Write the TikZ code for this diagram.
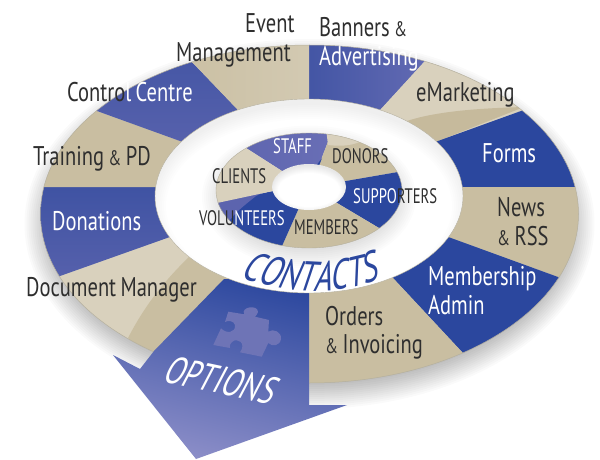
\documentclass[tikz,border=0pt]{standalone}
\usepackage{fontspec}
\setmainfont{PT Sans}[FakeStretch=0.76,WordSpace=0.8]
\newfontfamily\capsfont{PT Sans}[FakeStretch=0.7,WordSpace=0.8]
\newfontfamily\slantfont{PT Sans}[FakeStretch=0.72,FakeSlant=0.28]
\usetikzlibrary{calc,decorations.text}
\definecolor{tan1}{HTML}{C9BEA1}
\definecolor{tan2}{HTML}{D9D1BD}
\definecolor{tan3}{HTML}{C6BA9C}
\definecolor{blue1}{HTML}{2B479E}
\definecolor{blue2}{HTML}{3F53A3}
\definecolor{blue3}{HTML}{5C64AE}
\definecolor{blue4}{HTML}{6A6FB6}
\definecolor{ink}{HTML}{2E2E2E}
\definecolor{arrowlight}{HTML}{8C8EC8}
\definecolor{edge}{HTML}{B5B09E}
\definecolor{puzzle}{HTML}{6E74B6}
\tikzset{
  bigtext/.style={anchor=base west,inner sep=0pt,font=\fontsize{27}{27}\selectfont,text=ink},
  smalltext/.style={anchor=base west,inner sep=0pt,font=\capsfont\fontsize{21}{21}\selectfont,text=ink},
  onblue/.style={text=white},
  tansolid/.style={fill=tan1},
  bluesolid/.style={fill=blue1},
}
\newcommand{\ringseg}[5]{\fill[#5] ($#1!-0.2!#2$) -- ($#1!1.7!#2$) -- ($#4!1.7!#3$) -- ($#4!-0.2!#3$) -- cycle;}
\newcommand{\shadeseg}[5]{\shade[#5] ($#1!-0.2!#2$) -- ($#1!1.7!#2$) -- ($#4!1.7!#3$) -- ($#4!-0.2!#3$) -- cycle;}
\newcommand{\amp}{{\fontsize{21}{21}\selectfont\&}}
\begin{document}
\begin{tikzpicture}[x=1pt,y=-1pt]
\useasboundingbox (0,0) rectangle (600,460);
\fill[white] (0,0) rectangle (600,460);
% outer drop shadow
\foreach \i in {0,2,...,24}{
  \fill[black,opacity=.018] (309.5,224) ellipse [x radius={269pt+\i*1pt-8pt},y radius={169pt+\i*1pt-8pt}];
}
% big ring segments
\begin{scope}
\clip (309.5,214) ellipse [x radius=269pt,y radius=169pt];
\shadeseg{(309,99)}{(309,45)}{(425,61)}{(381,109)}{left color=blue2!85!blue3,right color=blue4}
\ringseg{(381,109)}{(425,61)}{(521,111)}{(438,141)}{fill=tan2}
\fill[tan3] (407,121) .. controls (440,110) and (490,108) .. (524,107) -- (438,141) -- (400,135) -- cycle;
\ringseg{(438,141)}{(521,111)}{(574,187)}{(463,187)}{bluesolid}
\ringseg{(463,187)}{(574,187)}{(558,277)}{(451,238)}{tansolid}
\ringseg{(451,238)}{(558,277)}{(462,352)}{(393,278)}{bluesolid}
\ringseg{(393,278)}{(462,352)}{(309,383)}{(309,293)}{tansolid}
\ringseg{(224,279)}{(154,351)}{(60,276)}{(167,238)}{fill=tan2}
\fill[tan1] (191,255) .. controls (165,280) and (145,305) .. (128,338) -- (154,362) -- (240,285) -- cycle;
\shadeseg{(167,238)}{(60,276)}{(41,187)}{(155,187)}{top color=blue2,bottom color=blue3}
\ringseg{(155,187)}{(41,187)}{(97,111)}{(180,141)}{tansolid}
\shadeseg{(180,141)}{(97,111)}{(192,62)}{(237,109)}{top color=blue2,bottom color=blue3!85!blue2}
\shadeseg{(237,109)}{(192,62)}{(309,45)}{(309,99)}{left color=tan1,right color=tan2!60!tan1}
\end{scope}
\draw[edge,line width=.5pt] (309.5,214) ellipse [x radius=269pt,y radius=169pt];
% options arrow
\shade[top color=blue1,bottom color=arrowlight,shading angle=-14]
  (224,279) -- (154,351) -- (140,369) -- (113,355) -- (196,459) -- (347,405) -- (309,405) -- (309,280) -- cycle;
% puzzle piece
\fill[puzzle] (228.3,311.7)
  -- (244.3,314.3) .. controls (240,307) and (258,304) .. (258,312)
  .. controls (258,314) and (256,315) .. (255,316.7)
  -- (269,320) -- (268.3,331.7)
  .. controls (273,328) and (282,332) .. (281,339)
  .. controls (280,346) and (272,347) .. (268.3,343)
  -- (261.7,356.7) -- (240,352.3)
  .. controls (247,343) and (237,337) .. (232,342)
  .. controls (229,345) and (230,347) .. (230,348)
  -- (213.3,345) -- (221,328.3)
  .. controls (226,334) and (236,333) .. (235,325)
  .. controls (234,321) and (228,320) .. (225,322)
  -- cycle;
% hole
\fill[white] (309,196) ellipse [x radius=154pt,y radius=97pt];
\begin{scope}
\clip (309,196) ellipse [x radius=154pt,y radius=97pt];
\foreach \i in {0,2,...,14}{
  \fill[black,opacity=.009,even odd rule] (0,0) rectangle (600,460)
    (309,206) ellipse [x radius={157pt-\i*1pt},y radius={101pt-\i*1pt}];
}
\end{scope}
\draw[edge,line width=.4pt] (309,196) ellipse [x radius=154pt,y radius=97pt];
% small ring shadow
\foreach \i in {0,2,...,20}{
  \fill[black,opacity=.012] (309,197) ellipse [x radius={93pt+\i*1pt-6pt},y radius={57.5pt+\i*1pt-6pt}];
}
% small ring
\begin{scope}
\clip (309,190.5) ellipse [x radius=93pt,y radius=57.5pt];
\shadeseg{(282,171)}{(246,148)}{(331,134)}{(319,165)}{left color=blue3,right color=blue4}
\ringseg{(319,165)}{(331,134)}{(398,172)}{(346,181)}{fill=tan1}
\fill[tan2] (328,145) .. controls (345,147) and (360,145) .. (370,135) -- (325,120) -- cycle;
\ringseg{(346,181)}{(398,172)}{(379,228)}{(337,203)}{bluesolid}
\ringseg{(337,203)}{(379,228)}{(282,246)}{(298,210)}{tansolid}
\ringseg{(298,210)}{(282,246)}{(217,203)}{(273,191)}{bluesolid}
\fill[blue3] (205,205) -- (273,188) -- (256,196) .. controls (245,205) and (235,212) .. (227,224) -- (205,230) -- cycle;
\ringseg{(273,191)}{(217,203)}{(246,148)}{(282,171)}{fill=tan2}
\fill[blue1] (316,166) -- (322,158) -- (319,166) -- cycle;
\end{scope}
% small hole
\fill[white] (309,187) ellipse [x radius=37pt,y radius=23pt];
\begin{scope}
\clip (309,187) ellipse [x radius=37pt,y radius=23pt];
\foreach \i in {0,1,...,7}{
  \fill[black,opacity=.012,even odd rule] (250,130) rectangle (370,240)
    (309,190) ellipse [x radius={38pt-\i*1pt},y radius={24pt-\i*1pt}];
}
\end{scope}
\draw[edge,line width=.4pt] (309,190.5) ellipse [x radius=93pt,y radius=57.5pt];
% big ring labels
\node[bigtext] (event) at (245,32.5) {Event};
\node[bigtext] (mgmt) at (176,62) {Management};
\node[bigtext] (control) at (67,101) {Contro\textcolor{white}{l Centre}};
\node[bigtext] (training) at (33,165) {Training \amp{} PD};
\node[bigtext,onblue] (donations) at (52,230) {Donations};
\node[bigtext] (banners) at (319,37) {Banners \amp};
\node[bigtext,onblue] (advert) at (319,66) {Advertising};
\node[bigtext] (emark) at (416,102) {eMarketing};
\node[bigtext,onblue] (forms) at (482,162) {Forms};
\node[bigtext] (news) at (497,216) {News};
\node[bigtext] (rss) at (497,245) {\amp{} RSS};
\node[bigtext,onblue] (member) at (428,285) {Membership};
\node[bigtext,onblue] (admin) at (428,314) {Admin};
\node[bigtext] (orders) at (325,325) {Orders};
\node[bigtext] (invoice) at (325,353) {\amp{} Invoicing};
\node[bigtext] (docman) at (26,296) {Document Manager};
% small ring labels
\node[smalltext,onblue] (staff) at (273,153) {STAFF};
\node[smalltext] (donors) at (332,163) {DONORS};
\node[smalltext] (clients) at (212,183) {CLIENTS};
\node[smalltext] (supporters) at (353,203) {\textcolor{white}{SUPPO}RTERS};
\node[smalltext] (volunteers) at (199,225) {VOLU\textcolor{white}{NTEERS}};
\node[smalltext] (members) at (294,234) {MEMBERS};
% arrow label
\node[anchor=base west,inner sep=0pt,text=white,rotate=-12,font=\slantfont\fontsize{39}{39}\selectfont] (options) at (161,381) {OPTIONS};
% curved title
\coordinate (arcstart) at (233,275);
\coordinate (arcend) at (386,276);
\path[decorate,decoration={text along path,text align=center,
  text={|\slantfont\fontsize{42}{42}\selectfont\color{blue1}|CONTACTS}}]
  (arcstart) .. controls (285,295) and (340,297) .. (arcend);
\end{tikzpicture}
\end{document}
